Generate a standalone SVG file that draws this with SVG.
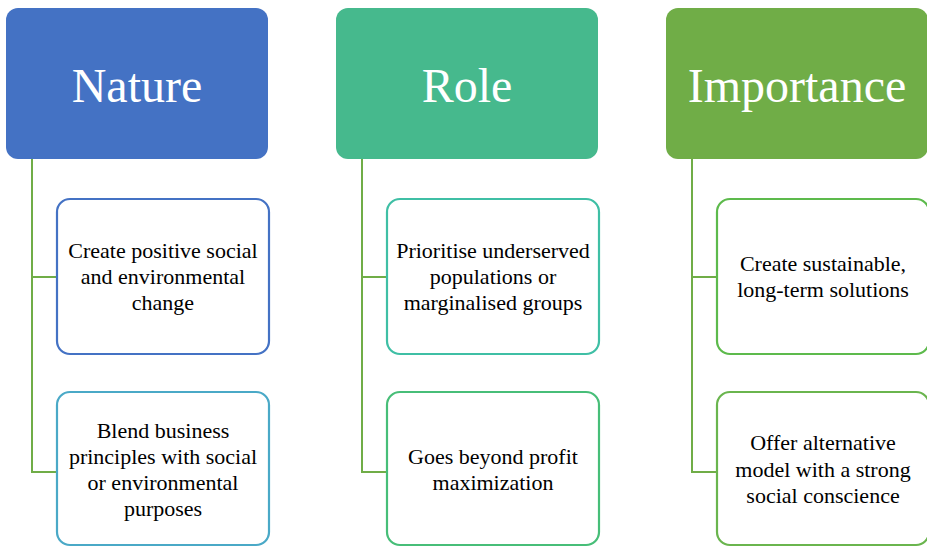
<svg xmlns="http://www.w3.org/2000/svg" width="927" height="547" viewBox="0 0 927 547">
<style>
.hdr{font-family:"Liberation Serif","Times New Roman",serif;font-size:48px;fill:#ffffff;text-anchor:middle}
.txt{font-family:"Liberation Serif","Times New Roman",serif;font-size:22px;fill:#000000;text-anchor:middle}
.child{fill:#ffffff;stroke-width:2.2}
.conn{fill:none;stroke:#70AD47;stroke-width:2}
</style>
<rect width="927" height="547" fill="#ffffff"/>
<g id="connectors">
<path class="conn" d="M32,159 V472 H57 M32,277 H57"/>
<path class="conn" d="M362,159 V472 H387 M362,277 H387"/>
<path class="conn" d="M692,159 V472 H717 M692,277 H717"/>
</g>
<g id="nature">
<rect x="6" y="8" width="262" height="151" rx="12" fill="#4472C4"/>
<text class="hdr" x="137" y="102">Nature</text>
</g>
<g id="nature-1">
<rect class="child" x="57" y="199" width="212" height="155" rx="13" stroke="#4472C4"/>
<text class="txt" x="163" y="258">Create positive social</text>
<text class="txt" x="163" y="284">and environmental</text>
<text class="txt" x="163" y="310">change</text>
</g>
<g id="nature-2">
<rect class="child" x="57" y="392" width="212" height="153" rx="13" stroke="#4AA9C7"/>
<text class="txt" x="163" y="438">Blend business</text>
<text class="txt" x="163" y="464">principles with social</text>
<text class="txt" x="163" y="490">or environmental</text>
<text class="txt" x="163" y="516">purposes</text>
</g>
<g id="role">
<rect x="336" y="8" width="262" height="151" rx="12" fill="#46B98D"/>
<text class="hdr" x="467" y="102">Role</text>
</g>
<g id="role-1">
<rect class="child" x="387" y="199" width="212" height="155" rx="13" stroke="#3FBFA5"/>
<text class="txt" x="493" y="258">Prioritise underserved</text>
<text class="txt" x="493" y="284">populations or</text>
<text class="txt" x="493" y="310">marginalised groups</text>
</g>
<g id="role-2">
<rect class="child" x="387" y="392" width="212" height="153" rx="13" stroke="#47BE78"/>
<text class="txt" x="493" y="464">Goes beyond profit</text>
<text class="txt" x="493" y="490">maximization</text>
</g>
<g id="importance">
<rect x="666" y="8" width="262" height="151" rx="12" fill="#70AD47"/>
<text class="hdr" x="797" y="102">Importance</text>
</g>
<g id="importance-1">
<rect class="child" x="717" y="199" width="212" height="155" rx="13" stroke="#5DBA4C"/>
<text class="txt" x="823" y="271">Create sustainable,</text>
<text class="txt" x="823" y="297">long-term solutions</text>
</g>
<g id="importance-2">
<rect class="child" x="717" y="392" width="212" height="153" rx="13" stroke="#6AB54E"/>
<text class="txt" x="823" y="450">Offer alternative</text>
<text class="txt" x="823" y="477">model with a strong</text>
<text class="txt" x="823" y="503">social conscience</text>
</g>
</svg>
